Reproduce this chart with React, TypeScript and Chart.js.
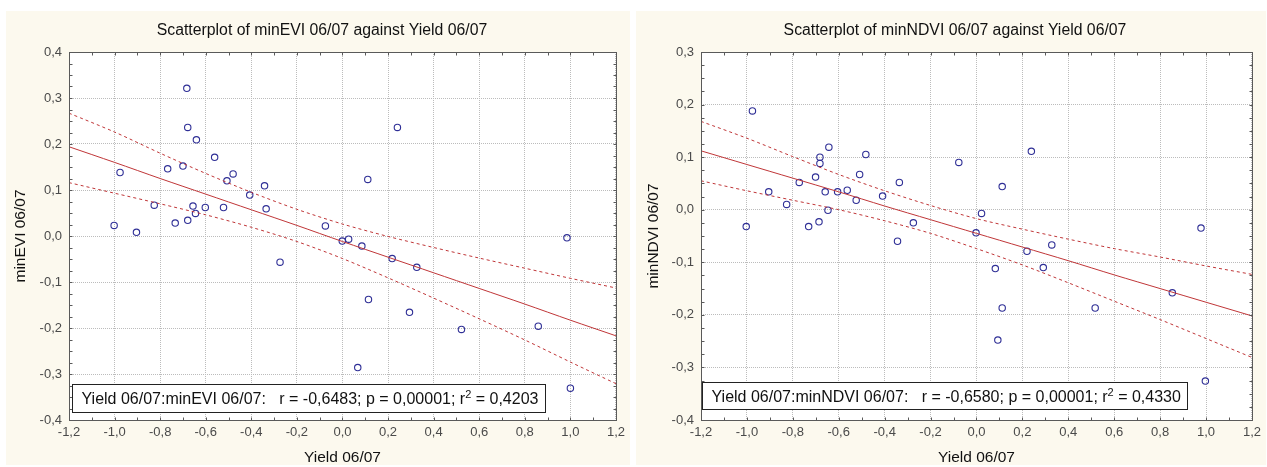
import React, { useEffect, useRef } from "react";
import { Chart, registerables } from "chart.js";

Chart.register(...registerables);

// ---------- data ----------
const eviYield = [-0.683, -0.679, -0.641, -0.561, -0.767, -0.7, -0.976, -0.48, -0.507, -0.342, -0.407, -0.335, -0.826, -0.656, -0.602, -0.522, -0.645, -0.679, -0.734, -1.002, -0.904, -0.274, 0.241, 0.111, -0.075, 0.985, -0.001, 0.027, 0.085, 0.218, 0.326, 0.114, 0.294, 0.522, 0.859, 0.067, 1.0];
const eviValues = [0.321, 0.236, 0.209, 0.171, 0.146, 0.152, 0.138, 0.135, 0.12, 0.109, 0.089, 0.059, 0.067, 0.065, 0.062, 0.062, 0.049, 0.034, 0.028, 0.023, 0.008, -0.057, 0.236, 0.123, 0.022, -0.004, -0.011, -0.007, -0.022, -0.049, -0.068, -0.138, -0.166, -0.203, -0.196, -0.286, -0.331];

const ndviYield = [-0.976, -0.643, -0.482, -0.682, -0.682, -0.509, -0.701, -0.772, -0.336, -0.905, -0.659, -0.605, -0.563, -0.524, -0.409, -0.827, -0.647, -0.275, -1.003, -0.731, -0.686, -0.344, -0.077, 0.239, 0.112, 0.022, -0.002, 0.978, 0.328, 0.22, 0.082, 0.291, 0.112, 0.517, 0.853, 0.093, 0.997];
const ndviValues = [0.188, 0.119, 0.105, 0.1, 0.088, 0.067, 0.062, 0.052, 0.052, 0.034, 0.034, 0.034, 0.037, 0.018, 0.026, 0.01, -0.001, -0.025, -0.032, -0.032, -0.023, -0.06, 0.09, 0.111, 0.044, -0.007, -0.044, -0.035, -0.067, -0.079, -0.112, -0.11, -0.187, -0.187, -0.158, -0.248, -0.326];

// regression line and 95% confidence band, read at these x positions
const bandX = [-1.2, -1.0, -0.8, -0.6, -0.4, -0.2, 0.0, 0.2, 0.4, 0.6, 0.8, 1.0, 1.2];
const eviFit = [0.194, 0.16, 0.125, 0.091, 0.057, 0.023, -0.012, -0.046, -0.08, -0.114, -0.148, -0.183, -0.217];
const eviUpper = [0.267, 0.226, 0.18, 0.136, 0.095, 0.058, 0.026, -0.001, -0.025, -0.048, -0.07, -0.092, -0.113];
const eviLower = [0.116, 0.093, 0.07, 0.046, 0.019, -0.012, -0.049, -0.091, -0.135, -0.18, -0.226, -0.274, -0.321];
const ndviFit = [0.112, 0.086, 0.06, 0.034, 0.007, -0.019, -0.045, -0.071, -0.097, -0.124, -0.15, -0.176, -0.202];
const ndviUpper = [0.168, 0.136, 0.101, 0.067, 0.036, 0.008, -0.017, -0.037, -0.056, -0.074, -0.09, -0.107, -0.123];
const ndviLower = [0.055, 0.036, 0.018, 0.0, -0.021, -0.045, -0.074, -0.105, -0.139, -0.174, -0.209, -0.245, -0.281];

const eviTitle = "Scatterplot of minEVI 06/07 against Yield 06/07";
const ndviTitle = "Scatterplot of minNDVI 06/07 against Yield 06/07";
const xAxisTitle = "Yield 06/07";
const eviAxisTitle = "minEVI 06/07";
const ndviAxisTitle = "minNDVI 06/07";
const eviStat = ["Yield 06/07:minEVI 06/07:   r = -0,6483; p = 0,00001; r", "2", " = 0,4203"];
const ndviStat = ["Yield 06/07:minNDVI 06/07:   r = -0,6580; p = 0,00001; r", "2", " = 0,4330"];

// ---------- style ----------
const FONT = '"Liberation Sans", Arial, Helvetica, sans-serif';
const CREAM = "#fcf9ee";
const RED = "#c03638";
const BLUE = "#2f2f96";
const PANEL_H = 454;

type Spec = {
  left: number;
  width: number;
  title: string;
  yTitle: string;
  xs: number[];
  ys: number[];
  fit: number[];
  upper: number[];
  lower: number[];
  yMin: number;
  yMax: number;
  yAxisWidth: number;
  yTitlePad: number;
  rightPad: number;
  stat: string[];
  statLeft: number;
  statTop: number;
  statH: number;
};

const fmt = (v: number) => {
  const n = Math.abs(v) < 1e-9 ? 0 : v;
  return n.toFixed(1).replace(".", ",");
};

function pairs(xs: number[], ys: number[]) {
  return xs.map((x, i) => ({ x, y: ys[i] }));
}

function makePlugin(spec: Spec) {
  return {
    id: "decor",
    beforeDraw(chart: any) {
      const { ctx, chartArea: a } = chart;
      ctx.save();
      ctx.fillStyle = "#ffffff";
      ctx.fillRect(a.left, a.top, a.right - a.left, a.bottom - a.top);
      ctx.restore();
    },
    afterDraw(chart: any) {
      const { ctx, chartArea: a } = chart;
      const xs = chart.scales.x;
      const ys = chart.scales.y;
      ctx.save();
      // title
      ctx.fillStyle = "#111";
      ctx.font = `15.8px ${FONT}`;
      ctx.textAlign = "center";
      ctx.textBaseline = "middle";
      ctx.fillText(spec.title, chart.width / 2 + 4, 20);

      // frame
      ctx.strokeStyle = "#5a5a5a";
      ctx.lineWidth = 1;
      const L = Math.round(a.left) + 0.5;
      const R = Math.round(a.right) + 0.5;
      const T = Math.round(a.top) + 0.5;
      const B = Math.round(a.bottom) + 0.5;
      ctx.strokeRect(L, T, R - L, B - T);

      // inner tick marks
      ctx.beginPath();
      for (let i = -12; i <= 12; i++) {
        const px = Math.round(xs.getPixelForValue(i / 10)) + 0.5;
        ctx.moveTo(px, B);
        ctx.lineTo(px, B - 3);
        ctx.moveTo(px, T);
        ctx.lineTo(px, T + 3);
      }
      for (let j = Math.round(spec.yMin * 40); j <= Math.round(spec.yMax * 40); j++) {
        const py = Math.round(ys.getPixelForValue(j / 40)) + 0.5;
        ctx.moveTo(L, py);
        ctx.lineTo(L + 3, py);
        ctx.moveTo(R, py);
        ctx.lineTo(R - 3, py);
      }
      ctx.stroke();

      // statistics box
      const big = `16px ${FONT}`;
      const small = `11px ${FONT}`;
      ctx.font = big;
      const w1 = ctx.measureText(spec.stat[0]).width;
      const w3 = ctx.measureText(spec.stat[2]).width;
      ctx.font = small;
      const w2 = ctx.measureText(spec.stat[1]).width;
      const boxL = Math.round(a.left + spec.statLeft) + 0.5;
      const boxT = Math.round(a.bottom - spec.statTop) + 0.5;
      const boxW = Math.round(w1 + w2 + w3 + 16);
      ctx.fillStyle = "#ffffff";
      ctx.fillRect(boxL, boxT, boxW, spec.statH);
      ctx.strokeStyle = "#222";
      ctx.strokeRect(boxL, boxT, boxW, spec.statH);
      ctx.fillStyle = "#111";
      ctx.textAlign = "left";
      ctx.textBaseline = "alphabetic";
      const base = boxT + spec.statH / 2 + 5.5;
      const tx = boxL + 9;
      ctx.font = big;
      ctx.fillText(spec.stat[0], tx, base);
      ctx.font = small;
      ctx.fillText(spec.stat[1], tx + w1, base - 6);
      ctx.font = big;
      ctx.fillText(spec.stat[2], tx + w1 + w2, base);
      ctx.restore();
    },
  };
}

function makeConfig(spec: Spec): any {
  const lineDs = (ys: number[], dash: number[]) => ({
    data: pairs(bandX, ys),
    showLine: true,
    pointRadius: 0,
    borderColor: RED,
    borderWidth: 1,
    borderDash: dash,
    tension: 0.3,
    fill: false,
  });
  return {
    type: "scatter",
    data: {
      datasets: [
        lineDs(spec.upper, [3, 3]),
        lineDs(spec.lower, [3, 3]),
        lineDs(spec.fit, []),
        {
          data: pairs(spec.xs, spec.ys),
          showLine: false,
          pointStyle: "circle",
          pointRadius: 3.2,
          pointBorderWidth: 1.1,
          borderColor: BLUE,
          backgroundColor: "rgba(0,0,0,0)",
          pointBackgroundColor: "rgba(0,0,0,0)",
        },
      ],
    },
    options: {
      animation: false,
      responsive: false,
      devicePixelRatio: 1,
      events: [],
      layout: { padding: { top: 41, right: spec.rightPad, left: 0, bottom: 0 } },
      plugins: { legend: { display: false }, tooltip: { enabled: false }, title: { display: false } },
      scales: {
        x: {
          type: "linear",
          min: -1.2,
          max: 1.2,
          ticks: {
            stepSize: 0.2,
            callback: (v: number) => fmt(v),
            font: { family: FONT, size: 13 },
            color: "#4a4a4a",
            padding: 5,
            maxRotation: 0,
            autoSkip: false,
          },
          grid: { color: "#bcbcbc", lineWidth: 1, drawTicks: false },
          border: { display: false, dash: [1, 1] },
          title: {
            display: true,
            text: xAxisTitle,
            font: { family: FONT, size: 15.5, lineHeight: 1 },
            color: "#111",
            padding: { top: 0, bottom: 0 },
          },
          afterFit: (s: any) => {
            s.height = 45;
          },
        },
        y: {
          type: "linear",
          min: spec.yMin,
          max: spec.yMax,
          ticks: {
            stepSize: 0.1,
            callback: (v: number) => fmt(v),
            font: { family: FONT, size: 13 },
            color: "#4a4a4a",
            padding: 7,
            autoSkip: false,
          },
          grid: { color: "#bcbcbc", lineWidth: 1, drawTicks: false },
          border: { display: false, dash: [1, 1] },
          title: {
            display: true,
            text: spec.yTitle,
            font: { family: FONT, size: 15.5, lineHeight: 1.2 },
            color: "#111",
            padding: { top: spec.yTitlePad, bottom: 0 },
          },
          afterFit: (s: any) => {
            s.width = spec.yAxisWidth;
          },
        },
      },
    },
    plugins: [makePlugin(spec)],
  };
}

const leftSpec: Spec = {
  left: 6,
  width: 624,
  title: eviTitle,
  yTitle: eviAxisTitle,
  xs: eviYield,
  ys: eviValues,
  fit: eviFit,
  upper: eviUpper,
  lower: eviLower,
  yMin: -0.4,
  yMax: 0.4,
  yAxisWidth: 63,
  yTitlePad: 5,
  rightPad: 8,
  stat: eviStat,
  statLeft: 3,
  statTop: 36,
  statH: 28,
};

const rightSpec: Spec = {
  left: 636,
  width: 630,
  title: ndviTitle,
  yTitle: ndviAxisTitle,
  xs: ndviYield,
  ys: ndviValues,
  fit: ndviFit,
  upper: ndviUpper,
  lower: ndviLower,
  yMin: -0.4,
  yMax: 0.3,
  yAxisWidth: 65,
  yTitlePad: 8,
  rightPad: 9,
  stat: ndviStat,
  statLeft: 1,
  statTop: 38,
  statH: 27,
};

function Panel({ spec }: { spec: Spec }) {
  const ref = useRef<HTMLCanvasElement>(null);
  useEffect(() => {
    if (!ref.current) return;
    const chart = new Chart(ref.current, makeConfig(spec));
    return () => chart.destroy();
  }, [spec]);
  return (
    <div
      style={{
        position: "absolute",
        left: spec.left,
        top: 11,
        width: spec.width,
        height: PANEL_H,
        background: CREAM,
      }}
    >
      <canvas
        ref={ref}
        width={spec.width}
        height={PANEL_H}
        style={{ display: "block", width: spec.width, height: PANEL_H }}
      />
    </div>
  );
}

export default function App() {
  return (
    <div
      style={{
        position: "absolute",
        left: 0,
        top: 0,
        width: 1267,
        height: 467,
        background: "#ffffff",
        overflow: "hidden",
      }}
    >
      <Panel spec={leftSpec} />
      <Panel spec={rightSpec} />
    </div>
  );
}
